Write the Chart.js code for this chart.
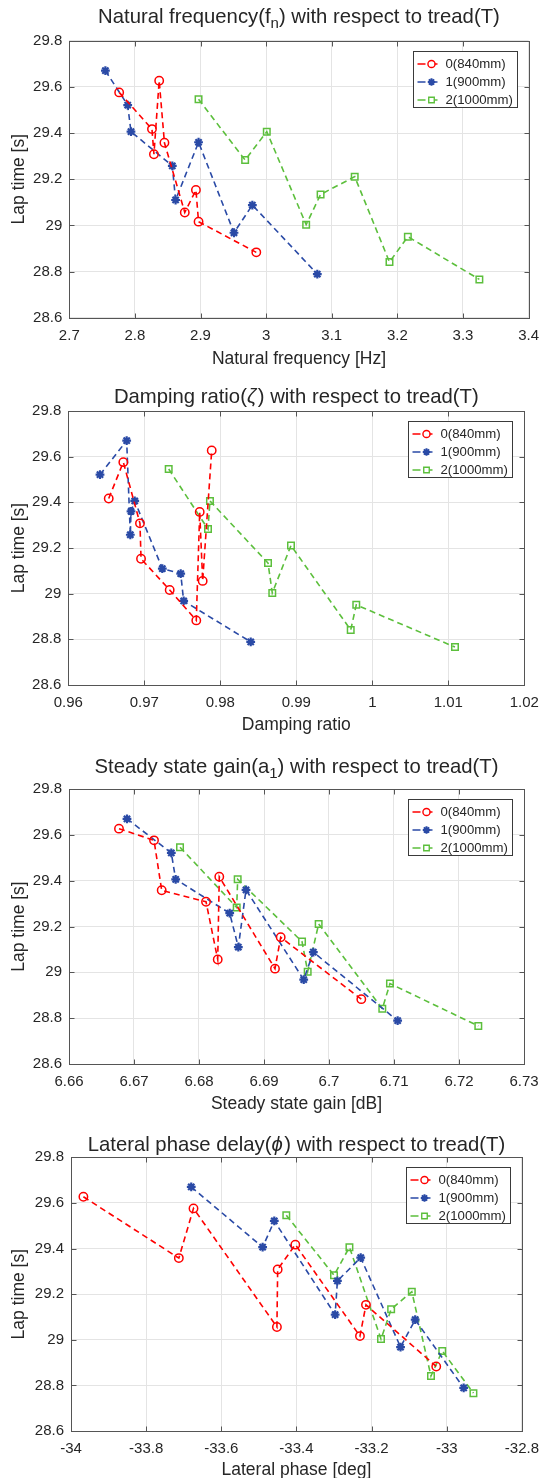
<!DOCTYPE html>
<html>
<head>
<meta charset="utf-8">
<script src="https://cdn.jsdelivr.net/npm/chart.js@4/dist/chart.umd.min.js"></script>
<style>
  html, body { margin: 0; padding: 0; background: #ffffff; overflow: hidden; }
  #wrap { position: relative; width: 548px; height: 1478px; background: #ffffff; overflow: hidden; }
  canvas { position: absolute; left: 0; }
</style>
</head>
<body>
<div id="wrap">
  <canvas id="c1" width="548" height="382" style="top:0px"></canvas>
  <canvas id="c2" width="548" height="382" style="top:370px"></canvas>
  <canvas id="c3" width="548" height="382" style="top:740px"></canvas>
  <canvas id="c4" width="548" height="382" style="top:1110px"></canvas>
</div>
<script>
// ---------------- DATA ----------------
const treadLabels = ['0(840mm)', '1(900mm)', '2(1000mm)'];

// Lap times [s] per tread (same order as the parameter arrays below)
const lapTime0 = [29.627, 29.576, 29.417, 29.358, 29.308, 29.153, 29.056, 29.016, 28.883];
const lapTime1 = [29.670, 29.521, 29.406, 29.360, 29.258, 29.110, 29.088, 28.968, 28.789];
const lapTime2 = [29.546, 29.406, 29.283, 29.211, 29.134, 29.003, 28.951, 28.841, 28.766];

// Natural frequency [Hz]
const natFreq0 = [2.837, 2.776, 2.826, 2.845, 2.829, 2.893, 2.876, 2.897, 2.985];
const natFreq1 = [2.755, 2.789, 2.794, 2.897, 2.857, 2.862, 2.979, 2.951, 3.078];
const natFreq2 = [2.897, 3.001, 2.968, 3.135, 3.083, 3.061, 3.216, 3.188, 3.325];

// Damping ratio
const damping0 = [0.97887, 0.96724, 0.96532, 0.97729, 0.96943, 0.96957, 0.97768, 0.97334, 0.97684];
const damping1 = [0.96768, 0.96417, 0.96874, 0.96825, 0.96816, 0.97237, 0.97479, 0.97518, 0.98400];
const damping2 = [0.97321, 0.97864, 0.97838, 0.98930, 0.98628, 0.98684, 0.99789, 0.99716, 1.01088];

// Steady state gain [dB]
const gain0 = [6.66769, 6.67308, 6.68312, 6.67426, 6.68108, 6.69257, 6.68288, 6.69169, 6.70497];
const gain1 = [6.66892, 6.67574, 6.67641, 6.68723, 6.68472, 6.68605, 6.69759, 6.69611, 6.71056];
const gain2 = [6.67708, 6.68595, 6.68580, 6.69841, 6.69585, 6.69672, 6.70938, 6.70820, 6.72297];

// Lateral phase [deg]
const phase0 = [-33.967, -33.674, -33.403, -33.713, -33.450, -33.215, -33.452, -33.231, -33.028];
const phase1 = [-33.680, -33.459, -33.490, -33.229, -33.291, -33.297, -33.084, -33.123, -32.955];
const phase2 = [-33.427, -33.259, -33.300, -33.093, -33.148, -33.175, -33.012, -33.042, -32.929];

// Tick labels
const lapTicks     = [28.6, 28.8, 29, 29.2, 29.4, 29.6, 29.8];
const natFreqTicks = [2.7, 2.8, 2.9, 3, 3.1, 3.2, 3.3, 3.4];
const dampingTicks = [0.96, 0.97, 0.98, 0.99, 1, 1.01, 1.02];
const gainTicks    = [6.66, 6.67, 6.68, 6.69, 6.7, 6.71, 6.72, 6.73];
const phaseTicks   = [-34, -33.8, -33.6, -33.4, -33.2, -33, -32.8];

// ---------------- STYLE ----------------
const FONT = '"Liberation Sans", Arial, Helvetica, "DejaVu Sans", sans-serif';
const TEXT = '#262626';
const FRAME = '#555555';
const GRID = '#e4e4e4';
const seriesColors = ['#ff0000', '#2a4aa6', '#5cbf3c'];
const seriesMarkers = ['circle', 'star', 'rect'];
const seriesRadius = [4.2, 4.4, 4.6];

function points(xs, ys) {
  return xs.map((x, i) => ({ x: x, y: ys[i] })).sort((a, b) => a.x - b.x);
}

function makeDatasets(xArrs) {
  const laps = [lapTime0, lapTime1, lapTime2];
  return xArrs.map((xs, k) => ({
    label: treadLabels[k],
    data: points(xs, laps[k]),
    showLine: true,
    borderColor: seriesColors[k],
    backgroundColor: 'rgba(0,0,0,0)',
    borderWidth: 1.6,
    borderDash: [6, 4],
    tension: 0,
    pointStyle: seriesMarkers[k],
    pointRadius: seriesRadius[k],
    pointHoverRadius: seriesRadius[k],
    pointBorderColor: seriesColors[k],
    pointBackgroundColor: 'rgba(0,0,0,0)',
    pointBorderWidth: k === 1 ? 2.2 : 1.5
  }));
}

function drawMarker(ctx, style, x, y, r, color) {
  ctx.save();
  ctx.strokeStyle = color; ctx.setLineDash([]);
  ctx.lineWidth = style === 'star' ? 2 : 1.4;
  ctx.beginPath();
  if (style === 'circle') {
    ctx.arc(x, y, r, 0, Math.PI * 2);
  } else if (style === 'rect') {
    const s = Math.SQRT1_2 * r;
    ctx.rect(x - s, y - s, 2 * s, 2 * s);
  } else {
    for (let i = 0; i < 4; i++) {
      const ang = i * Math.PI / 4;
      ctx.moveTo(x - Math.cos(ang) * r, y - Math.sin(ang) * r);
      ctx.lineTo(x + Math.cos(ang) * r, y + Math.sin(ang) * r);
    }
  }
  ctx.stroke();
  ctx.restore();
}

const decor = {
  id: 'decor',
  afterDraw(chart, args, o) {
    const ctx = chart.ctx;
    const a = chart.chartArea;
    const xs = chart.scales.x, ys = chart.scales.y;
    ctx.save();
    // frame
    const L = Math.round(a.left) + 0.5, R = Math.round(a.right) + 0.5;
    const T = Math.round(a.top) + 0.5, B = Math.round(a.bottom) + 0.5;
    ctx.strokeStyle = FRAME; ctx.lineWidth = 1; ctx.setLineDash([]);
    ctx.strokeRect(L, T, R - L, B - T);
    // inward tick marks
    ctx.beginPath();
    xs.ticks.forEach(t => {
      const p = Math.round(xs.getPixelForValue(t.value)) + 0.5;
      ctx.moveTo(p, B); ctx.lineTo(p, B - 5);
      ctx.moveTo(p, T); ctx.lineTo(p, T + 5);
    });
    ys.ticks.forEach(t => {
      const p = Math.round(ys.getPixelForValue(t.value)) + 0.5;
      ctx.moveTo(L, p); ctx.lineTo(L + 5, p);
      ctx.moveTo(R, p); ctx.lineTo(R - 5, p);
    });
    ctx.stroke();

    // title with sub / italic segments
    const size = 20.3;
    const segFont = s => (s.it ? 'italic ' : '') + (s.sub ? Math.round(size * 0.75) : size) + 'px ' + FONT;
    let total = 0;
    o.title.forEach(s => { ctx.font = segFont(s); s.w = ctx.measureText(s.t).width + (s.it ? 1.5 : 0); total += s.w; });
    let x = (a.left + a.right) / 2 - total / 2;
    ctx.fillStyle = TEXT; ctx.textBaseline = 'alphabetic'; ctx.textAlign = 'left';
    o.title.forEach(s => {
      ctx.font = segFont(s);
      ctx.fillText(s.t, x, o.titleY + (s.sub ? 5 : 0));
      x += s.w;
    });

    // axis titles
    ctx.font = '17.5px ' + FONT;
    ctx.textAlign = 'center'; ctx.textBaseline = 'alphabetic';
    ctx.fillText(o.xLabel, (a.left + a.right) / 2, o.xLabelY);
    ctx.save();
    ctx.translate(o.yLabelX, (a.top + a.bottom) / 2);
    ctx.rotate(-Math.PI / 2);
    ctx.textBaseline = 'middle';
    ctx.fillText(o.yLabel, 0, 0);
    ctx.restore();

    // legend
    const lw = 104, lh = 56;
    const lx = Math.round(a.right - 12 - lw) + 0.5, ly = Math.round(a.top + 10) + 0.5;
    ctx.fillStyle = '#ffffff';
    ctx.fillRect(lx, ly, lw, lh);
    ctx.strokeStyle = '#3a3a3a'; ctx.lineWidth = 1;
    ctx.strokeRect(lx, ly, lw, lh);
    chart.data.datasets.forEach((d, i) => {
      const yy = ly + 12.5 + i * 18;
      ctx.save();
      ctx.strokeStyle = d.borderColor; ctx.lineWidth = 1.5;
      ctx.beginPath(); ctx.moveTo(lx + 4, yy); ctx.lineTo(lx + 12, yy);
      ctx.moveTo(lx + 21, yy); ctx.lineTo(lx + 24, yy); ctx.stroke();
      ctx.restore();
      drawMarker(ctx, d.pointStyle, lx + 18, yy, d.pointRadius * 0.85, d.borderColor);
      ctx.fillStyle = TEXT; ctx.font = '13.2px ' + FONT;
      ctx.textAlign = 'left'; ctx.textBaseline = 'middle';
      ctx.fillText(d.label, lx + 32, yy + 0.5);
    });
    ctx.restore();
  }
};

function makeChart(id, H, area, xTicks, xArrs, deco) {
  const W = 548;
  const tickFont = { family: FONT, size: 15 };
  return new Chart(document.getElementById(id), {
    type: 'scatter',
    data: { datasets: makeDatasets(xArrs) },
    plugins: [decor],
    options: {
      responsive: false,
      animation: false,
      events: [],
      layout: { padding: { left: 0, top: area.t, right: W - area.r, bottom: 0 } },
      plugins: { legend: { display: false }, title: { display: false }, tooltip: { enabled: false }, decor: deco },
      scales: {
        x: {
          type: 'linear', position: 'bottom',
          min: xTicks[0], max: xTicks[xTicks.length - 1],
          afterBuildTicks: s => { s.ticks = xTicks.map(v => ({ value: v })); },
          afterFit: s => { s.height = H - area.b; },
          grid: { color: GRID, lineWidth: 1, drawTicks: false },
          border: { display: false },
          ticks: { autoSkip: false, maxRotation: 0, padding: 9, color: TEXT, font: tickFont,
                   callback: v => String(v) }
        },
        y: {
          type: 'linear', position: 'left',
          min: lapTicks[0], max: lapTicks[lapTicks.length - 1],
          afterBuildTicks: s => { s.ticks = lapTicks.map(v => ({ value: v })); },
          afterFit: s => { s.width = area.l; },
          grid: { color: GRID, lineWidth: 1, drawTicks: false },
          border: { display: false },
          ticks: { autoSkip: false, padding: 7, color: TEXT, font: tickFont,
                   callback: v => String(v) }
        }
      }
    }
  });
}

makeChart('c1', 382, { l: 69.3, r: 529.3, t: 40.7, b: 317.7 }, natFreqTicks,
  [natFreq0, natFreq1, natFreq2],
  { title: [{ t: 'Natural frequency(f' }, { t: 'n', sub: true }, { t: ') with respect to tread(T)' }],
    titleY: 23.3, xLabel: 'Natural frequency [Hz]', xLabelY: 364, yLabel: 'Lap time [s]', yLabelX: 19 });

makeChart('c2', 382, { l: 68.3, r: 524.3, t: 41, b: 315 }, dampingTicks,
  [damping0, damping1, damping2],
  { title: [{ t: 'Damping ratio(' }, { t: 'ζ', it: true }, { t: ') with respect to tread(T)' }],
    titleY: 33.3, xLabel: 'Damping ratio', xLabelY: 360, yLabel: 'Lap time [s]', yLabelX: 19 });

makeChart('c3', 382, { l: 69, r: 524, t: 49, b: 324 }, gainTicks,
  [gain0, gain1, gain2],
  { title: [{ t: 'Steady state gain(a' }, { t: '1', sub: true }, { t: ') with respect to tread(T)' }],
    titleY: 33.3, xLabel: 'Steady state gain [dB]', xLabelY: 368.5, yLabel: 'Lap time [s]', yLabelX: 19 });

makeChart('c4', 382, { l: 71, r: 524.3, t: 47.3, b: 321 }, phaseTicks,
  [phase0, phase1, phase2],
  { title: [{ t: 'Lateral phase delay(' }, { t: 'ϕ', it: true }, { t: ') with respect to tread(T)' }],
    titleY: 40.7, xLabel: 'Lateral phase [deg]', xLabelY: 365, yLabel: 'Lap time [s]', yLabelX: 19 });
</script>
</body>
</html>
